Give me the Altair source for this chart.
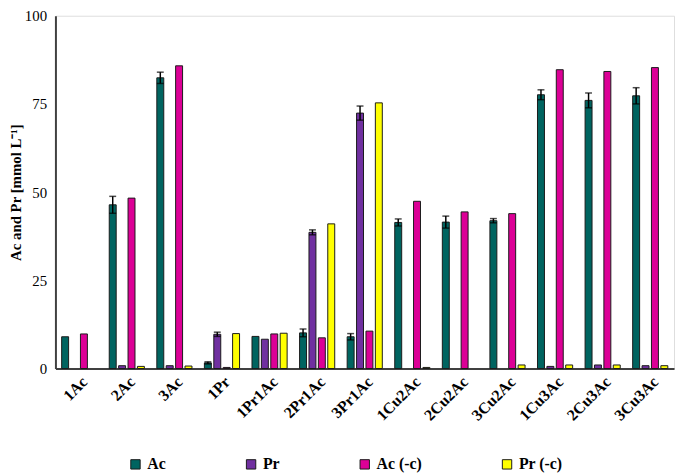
import altair as alt
import pandas as pd

categories = ["1Ac", "2Ac", "3Ac", "1Pr", "1Pr1Ac", "2Pr1Ac", "3Pr1Ac",
              "1Cu2Ac", "2Cu2Ac", "3Cu2Ac", "1Cu3Ac", "2Cu3Ac", "3Cu3Ac"]
series = ["Ac", "Pr", "Ac (-c)", "Pr (-c)"]
colors = ["#006460", "#7030A0", "#DC0096", "#FFFF00"]

ac = [9.0, 46.4, 82.4, 1.6, 9.1, 10.1, 9.0, 41.4, 41.5, 41.9, 77.6, 76.0, 77.3]
ac_err = [0, 2.4, 1.6, 0.3, 0, 1.1, 0.9, 1.0, 1.7, 0.6, 1.4, 2.1, 2.3]
pr = [0, 0.8, 0.8, 9.7, 8.3, 38.6, 72.4, 0, 0, 0, 0.6, 1.0, 0.8]
pr_err = [0, 0, 0, 0.6, 0, 0.7, 2.0, 0, 0, 0, 0, 0, 0]
ac_c = [9.8, 48.3, 85.8, 0.3, 9.8, 8.7, 10.6, 47.4, 44.4, 43.9, 84.7, 84.2, 85.3]
pr_c = [0, 0.6, 0.7, 9.9, 10.0, 41.0, 75.3, 0.3, 0, 1.0, 1.0, 1.0, 0.8]

rows = []
for s, vals, errs in [("Ac", ac, ac_err), ("Pr", pr, pr_err),
                      ("Ac (-c)", ac_c, [0] * 13), ("Pr (-c)", pr_c, [0] * 13)]:
    for c, v, e in zip(categories, vals, errs):
        if v > 0:
            rows.append({"cat": c, "series": s, "value": v, "err": e,
                         "lo": v - e, "hi": v + e})
df = pd.DataFrame(rows)
df_err = df[df["err"] > 0]

FONT = "Liberation Serif"

x_enc = alt.X("cat:N", sort=categories, title=None,
              scale=alt.Scale(paddingInner=0.21, paddingOuter=0.105),
              axis=alt.Axis(labelAngle=-45, labelAlign="right", labelBaseline="top",
                            labelFont=FONT, labelFontSize=16, labelFontWeight="bold",
                            labelColor="black", ticks=False, labelPadding=5,
                            domainColor="#404040", domainWidth=2))
xo_enc = alt.XOffset("series:N", sort=series,
                     scale=alt.Scale(paddingInner=0.26, paddingOuter=0.13))

bars = alt.Chart(df).mark_bar(stroke="#1a1a1a", strokeWidth=1).encode(
    x=x_enc,
    xOffset=xo_enc,
    y=alt.Y("value:Q", scale=alt.Scale(domain=[0, 100]),
            title="Ac and Pr [mmol L⁻¹]",
            axis=alt.Axis(values=[0, 25, 50, 75, 100], grid=False, ticks=False,
                          labelFont=FONT, labelFontSize=15, labelColor="black",
                          labelPadding=9, titleFont=FONT, titleFontSize=15,
                          titleFontWeight="bold", titleColor="black", titlePadding=1,
                          domainColor="#404040", domainWidth=2)),
    color=alt.Color("series:N", sort=series,
                    scale=alt.Scale(domain=series, range=colors),
                    legend=alt.Legend(title=None, orient="none", direction="horizontal",
                                      legendX=73, legendY=446, symbolType="square",
                                      symbolSize=90, symbolStrokeColor="#1a1a1a",
                                      symbolStrokeWidth=1, symbolOpacity=1,
                                      labelFont=FONT, labelFontSize=16,
                                      labelFontWeight="bold", labelColor="black",
                                      columnPadding=78, labelOffset=4, padding=0)),
)

err_rule = alt.Chart(df_err).mark_rule(color="black", strokeWidth=1.5).encode(
    x=alt.X("cat:N", sort=categories),
    xOffset=xo_enc,
    y="lo:Q",
    y2="hi:Q",
)
cap_hi = alt.Chart(df_err).mark_tick(color="black", thickness=1.5, size=7,
                                    orient="horizontal").encode(
    x=alt.X("cat:N", sort=categories),
    xOffset=xo_enc,
    y="hi:Q",
)
cap_lo = alt.Chart(df_err).mark_tick(color="black", thickness=1.5, size=7,
                                    orient="horizontal").encode(
    x=alt.X("cat:N", sort=categories),
    xOffset=xo_enc,
    y="lo:Q",
)

chart = alt.layer(bars, err_rule, cap_hi, cap_lo).properties(
    width=626, height=357,
    autosize=alt.AutoSizeParams(type="none"),
    padding={"left": 48, "top": 5, "right": 3, "bottom": 110},
).configure_view(stroke="#555555", strokeWidth=1.5).configure(background="white")

chart.save("out.html", embed_options={"renderer": "svg", "actions": False})
